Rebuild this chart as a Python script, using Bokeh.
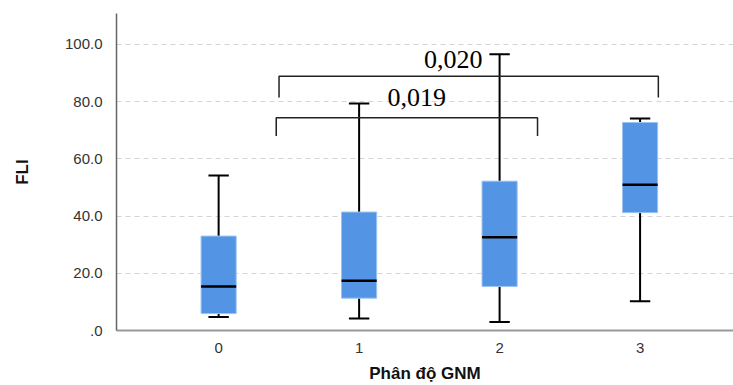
from bokeh.plotting import figure
from bokeh.models import Range1d, FixedTicker, ColumnDataSource
from bokeh.core.properties import value
from bokeh.embed import file_html
from bokeh.resources import INLINE

# ---- data ----
categories = ["0", "1", "2", "3"]
xpos = [0, 1, 2, 3]
whisker_low = [4.7, 4.2, 3.0, 10.2]
q1 = [5.9, 11.3, 15.4, 41.2]
median = [15.4, 17.4, 32.6, 50.9]
q3 = [33.0, 41.4, 52.2, 72.7]
whisker_high = [54.2, 79.3, 96.6, 74.1]

y_ticks = [0, 20, 40, 60, 80, 100]
y_tick_labels = [".0", "20.0", "40.0", "60.0", "80.0", "100.0"]

# significance brackets: start x, end x, bar level, leg bottom, label, label x, label y
br_x0 = [0.41, 0.43]
br_x1 = [2.27, 3.13]
br_top = [74.4, 88.9]
br_leg = [68.0, 81.4]
br_label = ["0,019", "0,020"]
br_label_x = [1.41, 1.67]
br_label_y = [81.3, 94.8]

BOX_W = 0.25
CAP_W = 0.145

p = figure(width=733, height=385, output_backend="svg", toolbar_location=None,
           x_range=Range1d(-0.727, 3.665), y_range=Range1d(0, 110.8),
           min_border_left=116, min_border_right=0, min_border_top=13, min_border_bottom=53)
p.outline_line_color = None
p.background_fill_color = "white"

src = ColumnDataSource(dict(
    x=xpos, lo=whisker_low, q1=q1, med=median, q3=q3, hi=whisker_high,
    cl=[v - CAP_W / 2 for v in xpos], cr=[v + CAP_W / 2 for v in xpos],
    bl=[v - BOX_W / 2 for v in xpos], brr=[v + BOX_W / 2 for v in xpos],
))

# whiskers
p.segment(x0="x", y0="q3", x1="x", y1="hi", source=src, line_color="black", line_width=2)
p.segment(x0="x", y0="lo", x1="x", y1="q1", source=src, line_color="black", line_width=2)
p.segment(x0="cl", y0="hi", x1="cr", y1="hi", source=src, line_color="black", line_width=2)
p.segment(x0="cl", y0="lo", x1="cr", y1="lo", source=src, line_color="black", line_width=2)
# boxes
p.vbar(x="x", width=BOX_W, bottom="q1", top="q3", source=src,
       fill_color="#5394e4", line_color="#9cc3f0", line_width=1)
# medians
p.segment(x0="bl", y0="med", x1="brr", y1="med", source=src, line_color="black", line_width=2.5)

# brackets
bx, by = [], []
for a, b, t, l in zip(br_x0, br_x1, br_top, br_leg):
    bx.append([a, a, b, b])
    by.append([l, t, t, l])
p.multi_line(xs=bx, ys=by, line_color="#222222", line_width=1.5)
p.text(x=br_label_x, y=br_label_y, text=br_label, text_font=value("Liberation Serif"),
       text_font_size="26px", text_align="center", text_baseline="middle", text_color="black")

# axes
p.xaxis.ticker = FixedTicker(ticks=xpos)
p.xaxis.major_label_overrides = {x: c for x, c in zip(xpos, categories)}
p.yaxis.ticker = FixedTicker(ticks=y_ticks)
p.yaxis.major_label_overrides = {t: l for t, l in zip(y_ticks, y_tick_labels)}

for ax in (p.xaxis[0], p.yaxis[0]):
    ax.major_tick_line_color = None
    ax.minor_tick_line_color = None
    ax.major_label_text_font = "Liberation Sans"
    ax.major_label_text_font_size = "15px"
    ax.major_label_text_color = "#333333"
    ax.axis_label_text_font = "Liberation Sans"
    ax.axis_label_text_font_style = "bold"
    ax.axis_label_text_font_size = "17px"
    ax.axis_label_text_color = "#111111"

p.xaxis.axis_line_color = "#999999"
p.xaxis.axis_line_width = 2
p.xaxis.major_label_standoff = 6
p.xaxis.axis_label = "Phân độ GNM"
p.xaxis.axis_label_standoff = 8

p.yaxis.axis_line_color = "#666666"
p.yaxis.axis_line_width = 1.5
p.yaxis.major_label_standoff = 8
p.yaxis.axis_label = "FLI"
p.yaxis.axis_label_standoff = 30

p.xgrid.grid_line_color = None
p.ygrid.grid_line_color = "#d4d4d4"
p.ygrid.grid_line_dash = "5 4"
p.ygrid.grid_line_width = 1

open("out.html", "w").write(file_html(p, INLINE))
